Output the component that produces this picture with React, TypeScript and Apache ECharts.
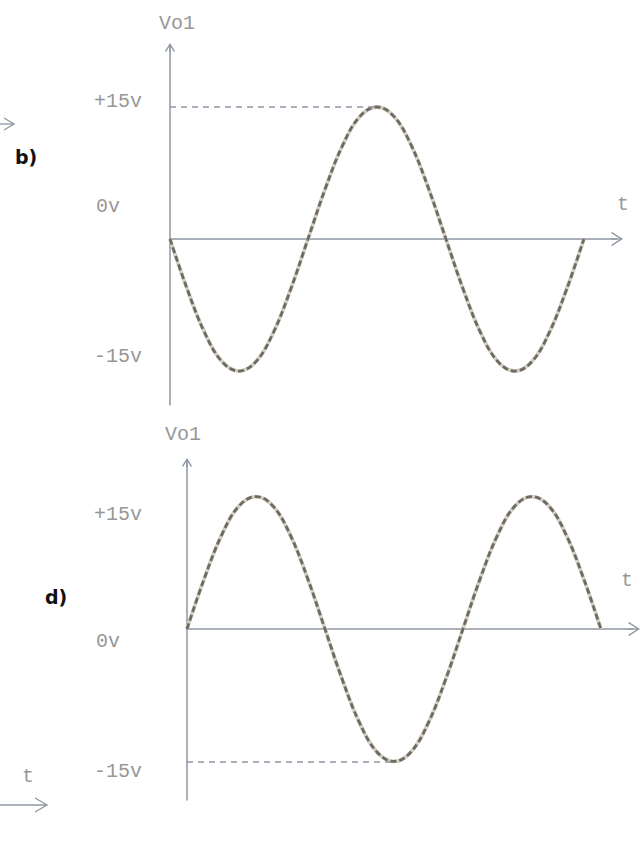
import React, { useEffect, useRef } from "react";
import * as echarts from "echarts";

// Time in half-periods, sampled every eighth of a half-period
const tValues = [
  0, 0.125, 0.25, 0.375, 0.5, 0.625, 0.75, 0.875, 1, 1.125, 1.25, 1.375, 1.5,
  1.625, 1.75, 1.875, 2, 2.125, 2.25, 2.375, 2.5, 2.625, 2.75, 2.875, 3,
];

// b) Vo1 – starts downward
const vo1B = [
  0, -5.7, -10.6, -13.9, -15, -13.9, -10.6, -5.7, 0, 5.7, 10.6, 13.9, 15, 13.9,
  10.6, 5.7, 0, -5.7, -10.6, -13.9, -15, -13.9, -10.6, -5.7, 0,
];

// d) Vo1 – starts upward
const vo1D = [
  0, 5.7, 10.6, 13.9, 15, 13.9, 10.6, 5.7, 0, -5.7, -10.6, -13.9, -15, -13.9,
  -10.6, -5.7, 0, 5.7, 10.6, 13.9, 15, 13.9, 10.6, 5.7, 0,
];

const yTickLabels = ["+15v", "0v", "-15v"];
const peakLevelB = 15; // dashed guide in b)
const peakLevelD = -15; // dashed guide in d)
const peakTimeB = 1.5;
const peakTimeD = 1.5;

const AXIS = "#8d96a3";
const TEXT = "#979797";
const WAVE_DARK = "#6f6a62";
const WAVE_LIGHT = "#d4cfc3";
const MONO = "'Liberation Mono', 'DejaVu Sans Mono', monospace";

const arrowUpY =
  "path://M5,0 L10,8 L9,9 L5,2.6 L1,9 L0,8 Z M4.4,1.5 L5.6,1.5 L5.6,9 L4.4,9 Z";
const arrowUpX =
  "path://M7,0 L14,11 L13,12 L7,2.6 L1,12 L0,11 Z M6.4,1.5 L7.6,1.5 L7.6,12 L6.4,12 Z";

function makeXAxis(gridIndex: number, max: number) {
  return {
    type: "value",
    gridIndex,
    min: 0,
    max,
    axisLine: {
      show: true,
      onZero: true,
      symbol: ["none", arrowUpX],
      symbolSize: [14, 12],
      lineStyle: { color: AXIS, width: 1.5 },
    },
    axisTick: { show: false },
    axisLabel: { show: false },
    splitLine: { show: false },
  };
}

function makeYAxis(gridIndex: number, min: number, max: number) {
  return {
    type: "value",
    gridIndex,
    min,
    max,
    axisLine: {
      show: true,
      onZero: false,
      symbol: ["none", arrowUpY],
      symbolSize: [10, 9],
      lineStyle: { color: AXIS, width: 1.5 },
    },
    axisTick: { show: false },
    axisLabel: { show: false },
    splitLine: { show: false },
  };
}

function waveSeries(idx: number, values: number[], guideY: number, guideT: number) {
  const data = tValues.map((t, i) => [t, values[i]]);
  return [
    {
      type: "line",
      xAxisIndex: idx,
      yAxisIndex: idx,
      data,
      smooth: 0.4,
      showSymbol: false,
      lineStyle: { color: WAVE_LIGHT, width: 3.8 },
      z: 2,
    },
    {
      type: "line",
      xAxisIndex: idx,
      yAxisIndex: idx,
      data,
      smooth: 0.4,
      showSymbol: false,
      lineStyle: { color: WAVE_DARK, width: 2.8, type: [6, 3] },
      z: 3,
      markLine: {
        silent: true,
        symbol: ["none", "none"],
        label: { show: false },
        lineStyle: { color: AXIS, width: 1.5, type: [6, 5] },
        data: [[{ coord: [0, guideY] }, { coord: [guideT, guideY] }]],
      },
    },
  ];
}

function label(text: string, x: number, y: number, opts: any = {}) {
  return {
    type: "text",
    x,
    y,
    style: {
      text,
      fill: TEXT,
      font: `20px ${MONO}`,
      textVerticalAlign: "middle",
      ...opts,
    },
  };
}

export default function App() {
  const ref = useRef<HTMLDivElement>(null);

  useEffect(() => {
    if (!ref.current) return;
    const chart = echarts.init(ref.current, undefined, { renderer: "svg" });

    const option = {
      animation: false,
      backgroundColor: "#ffffff",
      grid: [
        { left: 170, top: 47.5, width: 447, height: 357.5 },
        { left: 187, top: 462.5, width: 447, height: 337.5 },
      ],
      xAxis: [makeXAxis(0, 3.24), makeXAxis(1, 3.24)],
      yAxis: [makeYAxis(0, -18.86, 21.76), makeYAxis(1, -19.37, 18.86)],
      series: [
        ...waveSeries(0, vo1B, peakLevelB, peakTimeB),
        ...waveSeries(1, vo1D, peakLevelD, peakTimeD),
      ],
      graphic: [
        // b)
        label("Vo1", 177, 23, { textAlign: "center" }),
        label(yTickLabels[0], 94, 101),
        label(yTickLabels[1], 96, 206),
        label(yTickLabels[2], 94, 356),
        label("t", 623, 204, { textAlign: "center" }),
        {
          type: "text",
          x: 15,
          y: 157,
          style: {
            text: "b)",
            fill: "#111111",
            font: "bold 19px 'DejaVu Sans', sans-serif",
            textVerticalAlign: "middle",
          },
        },
        {
          type: "polyline",
          shape: { points: [[0, 124], [14, 124]] },
          style: { stroke: AXIS, lineWidth: 1.3, fill: null },
        },
        {
          type: "polyline",
          shape: { points: [[4, 118], [14, 124], [4, 130]] },
          style: { stroke: AXIS, lineWidth: 1.3, fill: null },
        },
        // d)
        label("Vo1", 183, 434, { textAlign: "center" }),
        label(yTickLabels[0], 94, 514),
        label(yTickLabels[1], 96, 641),
        label(yTickLabels[2], 94, 771),
        label("t", 627, 580, { textAlign: "center" }),
        {
          type: "text",
          x: 45,
          y: 597,
          style: {
            text: "d)",
            fill: "#111111",
            font: "bold 19px 'DejaVu Sans', sans-serif",
            textVerticalAlign: "middle",
          },
        },
        label("t", 28, 776, { textAlign: "center" }),
        {
          type: "polyline",
          shape: { points: [[0, 805], [47, 805]] },
          style: { stroke: AXIS, lineWidth: 1.3, fill: null },
        },
        {
          type: "polyline",
          shape: { points: [[35, 798], [47, 805], [35, 812]] },
          style: { stroke: AXIS, lineWidth: 1.3, fill: null },
        },
      ],
    };

    chart.setOption(option as any);
    return () => chart.dispose();
  }, []);

  return (
    <div
      ref={ref}
      style={{ position: "fixed", left: 0, top: 0, width: 641, height: 848 }}
    />
  );
}
